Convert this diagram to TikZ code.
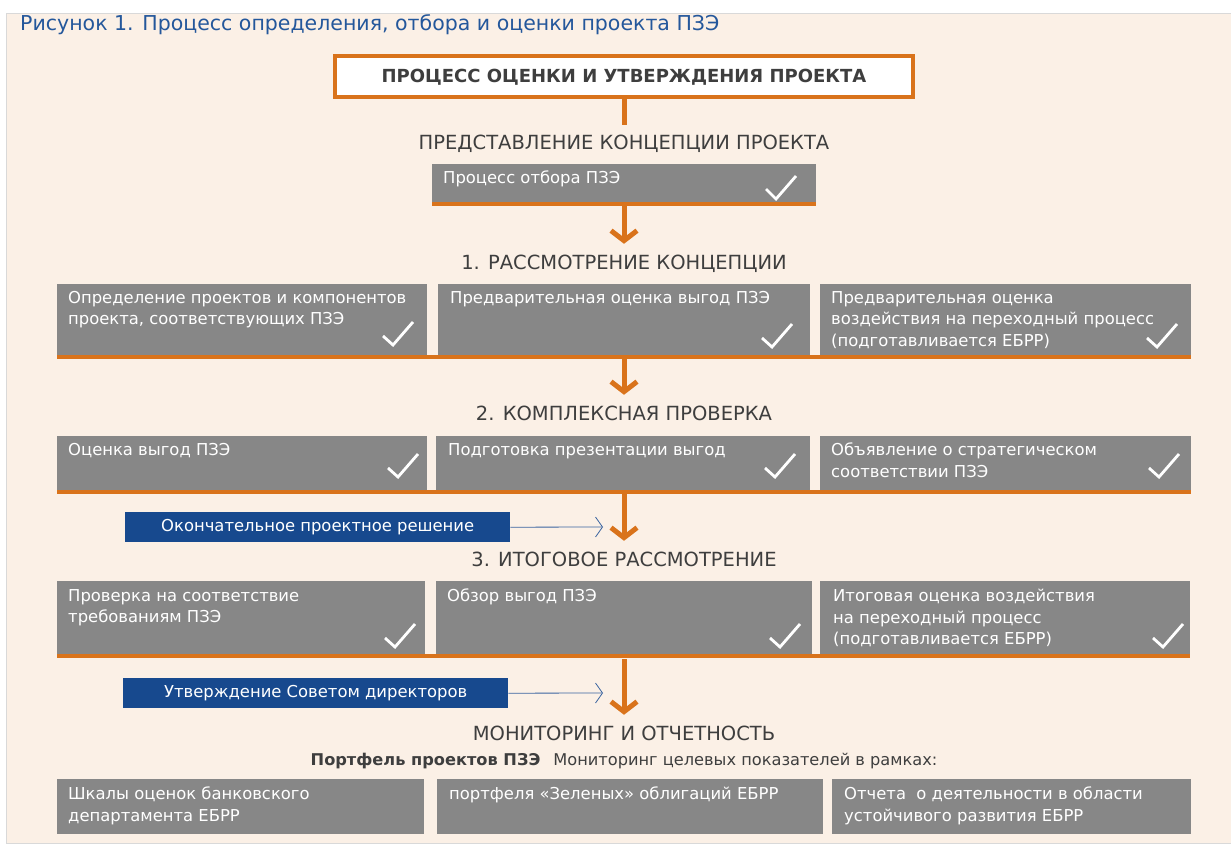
\documentclass[tikz,border=0pt]{standalone}
\usepackage{fontspec}
\setmainfont{DejaVu Sans}
\usetikzlibrary{arrows.meta,positioning}

\definecolor{peach}{HTML}{FBF0E6}
\definecolor{boxgray}{HTML}{878787}
\definecolor{orng}{HTML}{D9731B}
\definecolor{navy}{HTML}{17498E}
\definecolor{ttlblue}{HTML}{24579B}
\definecolor{hdgray}{HTML}{3E3E3E}
\definecolor{linkblue}{HTML}{3A64A0}

\begin{document}
\begin{tikzpicture}[x=1pt, y=-1pt,
  gbox/.style={fill=boxgray, inner sep=0pt, anchor=north west},
  btext/.style={anchor=north west, inner sep=0pt, align=left, text=white,
    font=\fontsize{16.4}{21.5}\selectfont},
  bar/.style={draw=orng, line width=4pt},
  flow/.style={draw=orng, line width=5pt, shorten >=11pt,
    -{Straight Barb[length=10pt, width=26pt]}},
  hd/.style={text=hdgray, inner sep=0pt, text height=14pt, text depth=0pt,
    font=\fontsize{19.5}{22}\selectfont},
  nbox/.style={fill=navy, text=white, inner sep=0pt, minimum width=385pt,
    minimum height=30pt, anchor=north west, font=\fontsize{16.4}{20}\selectfont},
  link/.style={draw=linkblue, line width=0.8pt,
    -{Straight Barb[length=7pt, width=20pt, line width=0.8pt]}},
  chk/.style={draw=white, line width=2.8pt}]
  \useasboundingbox (0,0) rectangle (1231,845);
  \fill[white] (0,0) rectangle (1231,845);
  \filldraw[fill=peach, draw=black!15] (6,13) rectangle (1231,843);

  \node[anchor=west, text=ttlblue, inner sep=0pt, font=\fontsize{20.5}{24}\selectfont]
    (title) at (20,25) {Рисунок 1. Процесс определения, отбора и оценки проекта ПЗЭ};

  % top box
  \node[draw=orng, line width=4pt, fill=white, minimum width=578pt, minimum height=41pt,
    font=\bfseries\fontsize{18}{22}\selectfont, text=hdgray] (top) at (624,77)
    {ПРОЦЕСС ОЦЕНКИ И УТВЕРЖДЕНИЯ ПРОЕКТА};
  \node[hd] (hd0) at (624,143) {ПРЕДСТАВЛЕНИЕ КОНЦЕПЦИИ ПРОЕКТА};
  \draw[orng, line width=5pt, shorten >=11pt] (top.south) -- (hd0.north);

  \node[gbox, minimum width=384pt, minimum height=38pt] (c0) at (432,164) {};
  \node[btext] (t0) at (443,171) {Процесс отбора ПЗЭ};
  \draw[chk] (766,189) -- (776,199) -- (796,176);
  \draw[bar] ([yshift=-2pt]c0.south west) -- ([yshift=-2pt]c0.south east);
  \coordinate (bar0) at (624,206);

  % 1
  \node[hd] (hd1) at (624,262) {1. РАССМОТРЕНИЕ КОНЦЕПЦИИ};
  \draw[flow] (bar0) -- (hd1.north);

  \node[gbox, minimum width=370pt, minimum height=71pt] (c1a) at (57,284) {};
  \node[gbox, minimum width=372pt, minimum height=71pt] (c1b) at (438,284) {};
  \node[gbox, minimum width=371pt, minimum height=71pt] (c1c) at (820,284) {};
  \node[btext] (t1a) at (68,291) {Определение проектов и компонентов\\проекта, соответствующих ПЗЭ};
  \node[btext] (t1b) at (450,291) {Предварительная оценка выгод ПЗЭ};
  \node[btext] (t1c) at (831,291) {Предварительная оценка\\воздействия на переходный процесс\\(подготавливается ЕБРР)};
  \draw[chk] (383,336) -- (393,345) -- (413,322);
  \draw[chk] (762,338) -- (772,347) -- (792,324);
  \draw[chk] (1147,338) -- (1157,347) -- (1177,324);
  \draw[bar] ([yshift=-2pt]c1a.south west) -- ([yshift=-2pt]c1c.south east);
  \coordinate (bar1) at (624,359);

  % 2
  \node[hd] (hd2) at (624,413) {2. КОМПЛЕКСНАЯ ПРОВЕРКА};
  \draw[flow] (bar1) -- (hd2.north);

  \node[gbox, minimum width=370pt, minimum height=54pt] (c2a) at (57,436) {};
  \node[gbox, minimum width=374pt, minimum height=54pt] (c2b) at (436,436) {};
  \node[gbox, minimum width=371pt, minimum height=54pt] (c2c) at (820,436) {};
  \node[btext] (t2a) at (68,443) {Оценка выгод ПЗЭ};
  \node[btext] (t2b) at (448,443) {Подготовка презентации выгод};
  \node[btext] (t2c) at (831,443) {Объявление о стратегическом\\соответствии ПЗЭ};
  \draw[chk] (388,468) -- (398,477) -- (418,454);
  \draw[chk] (765,468) -- (775,477) -- (795,454);
  \draw[chk] (1149,468) -- (1159,477) -- (1179,454);
  \draw[bar] ([yshift=-2pt]c2a.south west) -- ([yshift=-2pt]c2c.south east);
  \coordinate (bar2) at (624,494);

  \node[nbox] (dec) at (125,512) {Окончательное проектное решение};
  \coordinate (dectip) at (603,527);
  \draw[link] (dec.east) -- (dectip);

  % 3
  \node[hd] (hd3) at (624,559) {3. ИТОГОВОЕ РАССМОТРЕНИЕ};
  \draw[flow] (bar2) -- (hd3.north);

  \node[gbox, minimum width=368pt, minimum height=73pt] (c3a) at (57,581) {};
  \node[gbox, minimum width=376pt, minimum height=73pt] (c3b) at (436,581) {};
  \node[gbox, minimum width=370pt, minimum height=73pt] (c3c) at (820,581) {};
  \node[btext] (t3a) at (68,589) {Проверка на соответствие\\требованиям ПЗЭ};
  \node[btext] (t3b) at (447,589) {Обзор выгод ПЗЭ};
  \node[btext] (t3c) at (833,589) {Итоговая оценка воздействия\\на переходный процесс\\(подготавливается ЕБРР)};
  \draw[chk] (385,638) -- (395,647) -- (415,624);
  \draw[chk] (770,638) -- (780,647) -- (800,624);
  \draw[chk] (1153,638) -- (1163,647) -- (1183,624);
  \draw[bar] ([yshift=-2pt]c3a.south west) -- ([yshift=-2pt]c3c.south east);
  \coordinate (bar3) at (624,659);

  \node[nbox] (appr) at (123,678) {Утверждение Советом директоров};
  \coordinate (apprtip) at (603,693);
  \draw[link] (appr.east) -- (apprtip);

  % monitoring
  \node[hd] (hd4) at (624,733) {МОНИТОРИНГ И ОТЧЕТНОСТЬ};
  \draw[flow] (bar3) -- (hd4.north);
  \node[text=hdgray, font=\fontsize{16.2}{19}\selectfont] (port) at (624,761)
    {{\bfseries Портфель проектов ПЗЭ}\hspace{13pt}Мониторинг целевых показателей в рамках:};

  \node[gbox, minimum width=367pt, minimum height=55pt] (c4a) at (57,779) {};
  \node[gbox, minimum width=386pt, minimum height=55pt] (c4b) at (437,779) {};
  \node[gbox, minimum width=359pt, minimum height=55pt] (c4c) at (832,779) {};
  \node[btext] (t4a) at (68,787) {Шкалы оценок банковского\\департамента ЕБРР};
  \node[btext] (t4b) at (449,787) {портфеля «Зеленых» облигаций ЕБРР};
  \node[btext] (t4c) at (844,787) {Отчета\ \ о деятельности в области\\устойчивого развития ЕБРР};
\end{tikzpicture}
\end{document}
